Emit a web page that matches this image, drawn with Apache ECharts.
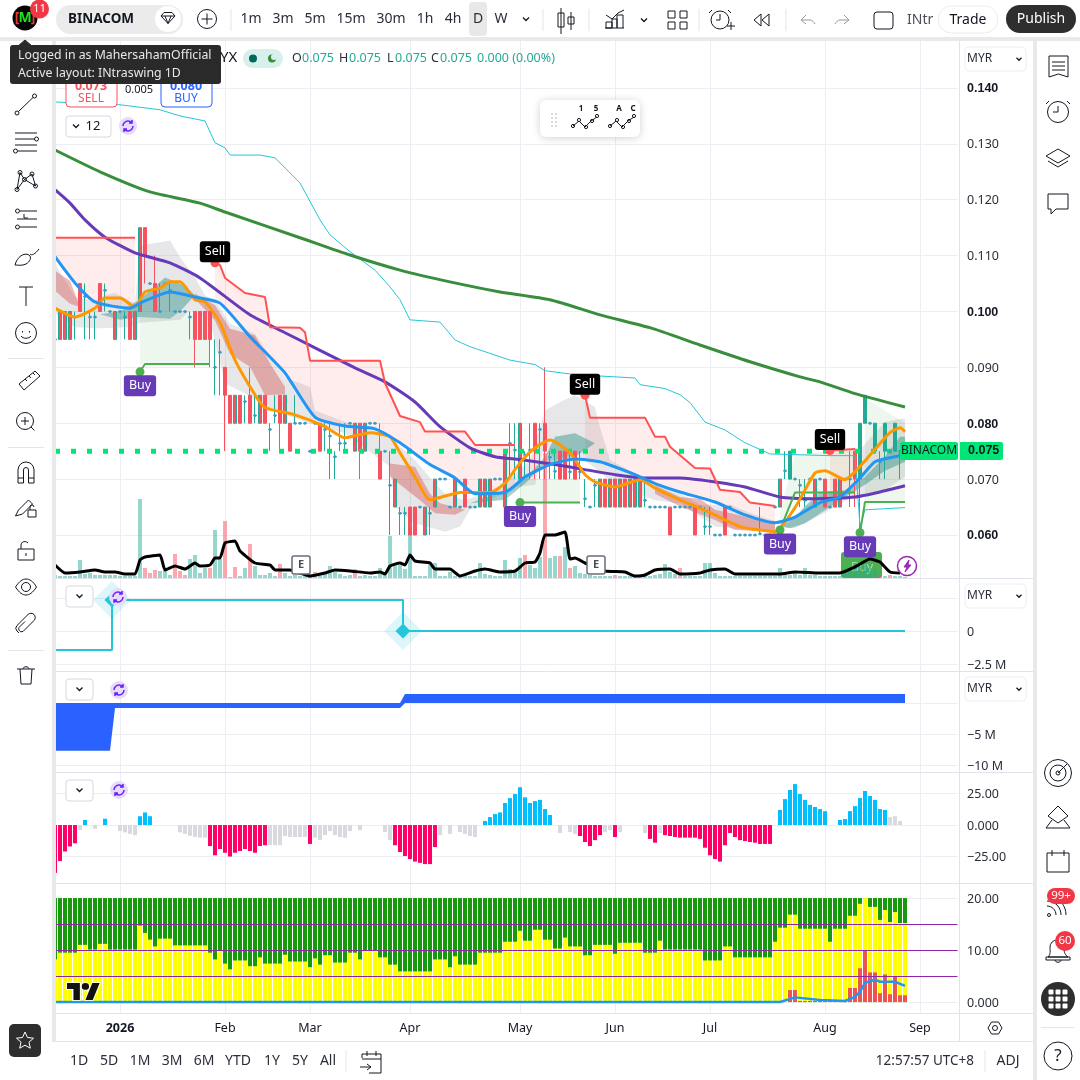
<!DOCTYPE html>
<html><head><meta charset="utf-8">
<style>html,body{margin:0;padding:0;background:#fff}#c{width:1080px;height:1080px}</style>
<script src="https://cdn.jsdelivr.net/npm/echarts@6/dist/echarts.min.js"></script>
</head><body><div id="c"></div>
<script>
// ---------- DATA ----------
const barCount = 181;
const monthLabels = {13:'2026',34:'Feb',51:'Mar',71:'Apr',93:'May',112:'Jun',131:'Jul',154:'Aug',173:'Sep'};
const priceTicks = [0.06,0.07,0.08,0.09,0.10,0.11,0.12,0.13,0.14];
const boldPrices = ['0.140','0.100','0.080','0.060'];
// [open, close, low, high]
const candles = [
[.095,.095,.095,.095],[.095,.1,.095,.1],[.095,.1,.095,.1],[.095,.1,.095,.1],[.099,.099,.095,.1],
[.105,.1,.1,.105],[.1027,.1027,.095,.105],[.099,.099,.095,.1],[.099,.099,.095,.1],[.105,.1,.1,.105],
[.1038,.1038,.1,.105],[.1,.1,.1,.1],[.095,.1,.095,.1],[.1,.1,.1,.1],[.099,.099,.095,.1],
[.1,.095,.095,.1],[.095,.1,.095,.1],[.1,.115,.1,.115],[.115,.11,.105,.115],[.105,.105,.105,.105],
[.105,.1,.1,.11],[.1,.1,.1,.105],[.105,.105,.105,.105],[.1038,.1038,.1,.105],[.1,.1,.1,.1],
[.1,.1,.1,.1],[.1,.1,.1,.1],[.099,.099,.095,.1],[.1,.095,.09,.1],[.1,.095,.095,.1],
[.1,.095,.095,.1],[.1,.095,.09,.1],[.09,.09,.085,.095],[.0927,.0927,.085,.095],[.09,.085,.075,.09],
[.085,.08,.08,.085],[.08,.085,.08,.085],[.085,.08,.08,.085],[.0839,.0839,.08,.085],[.085,.08,.08,.09],
[.0814,.0814,.08,.085],[.08,.085,.08,.085],[.085,.08,.08,.085],[.0789,.0789,.075,.08],[.0814,.0814,.08,.085],
[.085,.08,.075,.085],[.08,.085,.08,.085],[.08,.075,.075,.08],[.08,.08,.08,.085],[.08,.08,.08,.08],
[.08,.08,.08,.08],[.075,.075,.075,.075],[.08,.08,.08,.08],[.08,.075,.075,.08],[.0789,.0789,.075,.08],
[.0777,.0777,.07,.08],[.074,.074,.07,.075],[.0764,.0764,.075,.08],[.0764,.0764,.075,.08],[.08,.08,.08,.08],
[.075,.08,.075,.08],[.08,.075,.07,.08],[.075,.08,.075,.08],[.08,.08,.08,.08],[.08,.08,.08,.08],
[.075,.07,.07,.08],[.075,.075,.075,.075],[.0689,.0689,.06,.075],[.065,.07,.065,.07],[.0639,.0639,.06,.065],
[.0639,.0639,.06,.065],[.065,.06,.06,.065],[.065,.06,.06,.065],[.065,.065,.065,.065],[.06,.065,.06,.065],
[.0639,.0639,.06,.065],[.065,.07,.065,.07],[.07,.07,.07,.07],[.07,.07,.07,.07],[.065,.065,.065,.065],
[.065,.07,.065,.07],[.065,.065,.065,.065],[.07,.065,.065,.07],[.065,.065,.065,.065],[.065,.065,.065,.065],
[.065,.07,.065,.07],[.065,.07,.065,.07],[.065,.07,.065,.07],[.07,.07,.07,.07],[.07,.07,.07,.07],
[.065,.075,.065,.075],[.0764,.0764,.07,.08],[.0752,.0752,.07,.08],[.07,.08,.07,.08],[.0743,.0743,.07,.075],
[.0752,.0752,.07,.08],[.08,.075,.07,.08],[.0789,.0789,.07,.08],[.08,.075,.07,.09],[.0739,.0739,.07,.075],
[.0714,.0714,.07,.075],[.075,.07,.07,.075],[.075,.07,.07,.075],[.0713,.0713,.07,.075],[.075,.07,.07,.075],
[.0713,.0713,.07,.075],[.0665,.0665,.065,.07],[.065,.065,.065,.065],[.0689,.0689,.065,.07],[.065,.07,.065,.07],
[.07,.065,.065,.07],[.065,.07,.065,.07],[.07,.065,.065,.07],[.065,.07,.065,.07],[.07,.065,.065,.07],
[.065,.07,.065,.07],[.065,.07,.065,.07],[.065,.07,.065,.07],[.0662,.0662,.065,.07],[.065,.065,.065,.065],
[.065,.065,.065,.065],[.065,.065,.065,.065],[.065,.065,.065,.065],[.065,.06,.06,.065],[.065,.065,.065,.065],
[.065,.065,.065,.065],[.065,.065,.065,.065],[.065,.065,.065,.065],[.065,.06,.06,.065],[.065,.065,.065,.065],
[.0615,.0615,.06,.065],[.0615,.0615,.06,.065],[.06,.06,.06,.06],[.06,.06,.06,.06],[.065,.06,.06,.065],
[.065,.065,.065,.065],[.06,.06,.06,.06],[.06,.06,.06,.06],[.06,.06,.06,.06],[.06,.06,.06,.06],
[.06,.06,.06,.06],[.0602,.0602,.06,.065],[.06,.06,.06,.06],[.06,.06,.06,.06],[.065,.065,.065,.065],
[.065,.07,.065,.07],[.0715,.0715,.07,.075],[.07,.075,.07,.075],[.07,.07,.07,.07],[.0689,.0689,.065,.07],
[.0662,.0662,.065,.07],[.07,.07,.07,.07],[.065,.07,.065,.07],[.07,.07,.07,.07],[.07,.065,.065,.07],
[.065,.065,.065,.065],[.07,.065,.065,.07],[.065,.07,.065,.07],[.07,.07,.07,.07],[.07,.07,.065,.075],
[.075,.07,.065,.075],[.07,.08,.06,.08],[.08,.085,.08,.085],[.08,.08,.08,.08],[.075,.08,.075,.08],
[.0731,.0731,.07,.075],[.075,.08,.07,.08],[.075,.075,.075,.075],[.075,.08,.075,.08],[.075,.075,.07,.075],
[.075,.075,.075,.075]];
const solidUpBars = [147,161,162,164,166,168];
const lastPriceLine = [[0,.075],[180,.075]];

const volume = [3,2,2,2,2,18,4,5,3,3,3,3,3,2,2,2,2,79,10,5,8,7,8,3,24,7,3,19,23,5,10,10,48,19,57,1,11,2,10,34,
12,3,3,5,2,14,5,2,3,2,2,2,6,4,5,12,6,4,2,3,9,2,3,2,2,10,3,42,15,13,9,45,2,2,2,13,15,2,2,6,2,2,4,2,2,15,4,3,2,2,
18,9,8,20,23,13,10,21,125,20,22,22,31,10,12,5,4,3,2,2,2,2,3,2,2,2,2,2,2,2,3,4,14,6,4,10,2,2,2,2,15,15,5,2,2,
2,2,2,2,2,2,2,2,2,2,10,5,3,7,3,10,3,3,2,2,2,2,2,6,8,15,12,14,10,8,3,2,3,2,2,1];
const volumeRed = [18,19,20,24,25,26,31,34,36,39,45,52,60,94,98,101,103,112,125,165,167];
const volumeAvg = [[0,13],[2,5],[5,6],[8,8],[10,6],[12,6],[14,4],[16,4],[17,18],[18,21],[21,23],[22,8],[24,12],[26,9],[28,15],[29,12],[31,13],[32,20],[33,20],[34,35],[36,37],[37,27],[40,15],[43,13],[44,8],[47,8],[51,2],[54,5],[56,8],[59,7],[63,5],[65,6],[66,4],[67,12],[69,15],[70,13],[71,23],[72,17],[75,15],[76,9],[79,9],[81,2],[84,7],[86,9],[89,6],[92,7],[94,15],[96,16],[97,25],[98,43],[100,43],[102,46],[103,19],[104,20],[106,15],[110,7],[114,6],[116,2],[118,3],[120,8],[123,9],[125,4],[129,5],[131,8],[134,9],[136,4],[145,4],[148,6],[153,5],[157,5],[160,11],[163,19],[165,16],[167,6],[169,5]];

const ma200 = [[0,.1289],[9,.1250],[19,.1214],[29,.1194],[34,.1178],[49,.1132],[59,.1101],[69,.1074],[79,.1053],[89,.1035],[99,.1021],[109,.0994],[119,.0971],[129,.0940],[139,.0910],[149,.0883],[153,.0874],[160,.0853],[170,.0829]];
const maPurple = [[0,.1218],[3,.1194],[6,.1164],[10,.1133],[16,.1105],[23,.1087],[29,.1060],[39,.0994],[46,.0962],[52,.0935],[60,.0899],[66,.0874],[72,.0838],[77,.0794],[83,.0756],[88,.0740],[93,.0735],[100,.0726],[106,.0717],[112,.0708],[118,.0702],[125,.0702],[132,.0695],[138,.0686],[145,.0668],[152,.0665],[160,.0668],[165,.0677],[170,.0688]];
const maBlue = [[0,.1098],[4,.1051],[8,.1017],[15,.1006],[17,.1015],[23,.1035],[28,.1026],[33,.1015],[39,.0955],[46,.0890],[52,.0811],[58,.0795],[64,.0790],[69,.0765],[75,.0726],[80,.0702],[84,.0674],[90,.0676],[94,.0704],[99,.0726],[104,.0736],[109,.0731],[116,.0708],[120,.0692],[125,.0677],[132,.0659],[138,.0636],[144,.0622],[148,.0632],[153,.0658],[157,.0668],[161,.0702],[164,.0731],[168,.0740],[170,.0743]];
const maOrange = [[0,.1006],[4,.0990],[8,.1006],[10,.1024],[13,.1024],[16,.1008],[18,.1035],[21,.1042],[23,.1053],[25,.1053],[28,.1021],[30,.1017],[33,.0980],[36,.0913],[40,.0851],[42,.0828],[48,.0815],[54,.0794],[58,.0774],[63,.0783],[67,.0776],[69,.0747],[72,.0704],[75,.0663],[79,.0672],[81,.0676],[87,.0676],[90,.0693],[93,.0729],[96,.0756],[99,.0770],[103,.0747],[106,.0708],[108,.0695],[112,.0686],[117,.0699],[120,.0684],[125,.0663],[131,.0640],[137,.0615],[144,.0606],[148,.0649],[152,.0711],[154,.0715],[158,.0699],[160,.0713],[163,.0743],[167,.0783],[169,.0792],[170,.0785]];
const bandCyan = [[0,.1375],[13,.1370],[21,.1361],[25,.1350],[30,.1341],[32,.1302],[34,.1293],[35,.1280],[41,.1280],[44,.1275],[49,.1230],[53,.1164],[55,.1137],[59,.1107],[64,.1074],[67,.1044],[69,.1021],[71,.0985],[77,.0981],[80,.0949],[83,.0937],[91,.0913],[96,.0905],[98,.0894],[104,.0887],[116,.0881],[117,.0869],[122,.0862],[125,.0851],[127,.0837],[130,.0802],[134,.0788],[138,.0765],[143,.0745],[155,.0742],[160,.0742],[161,.0615],[162,.0645],[170,.0649]];

const stopRed1 = [[0,.1132],[16,.1132]];
const stopRed2 = [[32,.1087],[33,.1083],[34,.1060],[38,.1033],[42,.1026],[43,.0972],[49,.0971],[50,.0963],[51,.0912],[65,.0912],[66,.0872],[69,.0813],[73,.0802],[74,.0785],[82,.0785],[84,.0761],[92,.0761]];
const stopRed3 = [[106,.0850],[107,.0810],[118,.0810],[120,.0776],[122,.0776],[123,.0758],[128,.0720],[131,.0719],[133,.0681],[137,.0677],[139,.0658],[144,.0652]];
const stopRed4 = [[155,.0751],[160,.0754]];
const stopGreen1 = [[17,.0892],[18,.0906],[31,.0906]];
const stopGreen2 = [[93,.0658],[105,.0658]];
const stopGreen3 = [[145,.0609],[148,.0676],[160,.0676]];
const stopGreen4 = [[161,.0604],[162,.0659],[170,.0659]];

const sellSignals = [[32,.1087],[106,.0850],[155,.0751]];
const buySignals = [[17,.0892],[93,.0658],[145,.0609],[161,.0604]];

const pinkFills = [
 [[0,.1132],[16,.1132],[16,.1005],[15,.1006],[8,.1017],[4,.1051],[0,.1098]],
 [[32,.1087],[33,.1083],[34,.1060],[38,.1033],[42,.1026],[43,.0972],[49,.0971],[50,.0963],[51,.0912],[65,.0912],[66,.0872],[69,.0813],[73,.0802],[74,.0785],[82,.0785],[84,.0761],[92,.0761],[92,.0680],[90,.0676],[84,.0674],[80,.0702],[75,.0726],[69,.0765],[64,.0790],[58,.0795],[52,.0811],[46,.0890],[39,.0955],[33,.1015],[32,.1018]],
 [[106,.0850],[107,.0810],[118,.0810],[120,.0776],[122,.0776],[123,.0758],[128,.0720],[131,.0719],[133,.0681],[137,.0677],[139,.0658],[144,.0652],[144,.0622],[138,.0636],[132,.0659],[125,.0677],[120,.0692],[116,.0708],[109,.0731],[106,.0735]],
 [[155,.0751],[160,.0754],[160,.0690],[157,.0668],[155,.0664]]];
const greenFills = [
 [[17,.0906],[31,.0906],[31,.0985],[27,.1000],[25,.1000],[23,.0987],[17,.0990]],
 [[93,.0658],[105,.0658],[105,.0700],[93,.0700]],
 [[145,.0609],[148,.0676],[160,.0676],[160,.0754],[148,.0745],[145,.0640]],
 [[162,.0659],[170,.0659],[170,.0800],[162,.0845]]];
const greyFills = [
 [[0,.1085],[4,.1026],[8,.1020],[10,.1029],[12,.1033],[16,.1014],[17,.1118],[23,.1127],[25,.1097],[28,.1061],[30,.1029],[32,.1020],[35,.0978],[40,.0960],[46,.0882],[51,.0865],[52,.0823],[59,.0799],[66,.0782],[69,.0758],[72,.0734],[76,.0692],[78,.0674],[78,.0606],[72,.0621],[68,.0651],[67,.0722],[58,.0782],[51,.0799],[42,.0829],[38,.0853],[34,.0871],[31,.0984],[27,.1002],[25,.0985],[17,.0980],[15,.0972],[9,.0970],[4,.0972],[0,.0997]],
 [[78,.0674],[82,.0662],[85,.0671],[90,.0692],[95,.0734],[98,.0823],[101,.0838],[104,.0850],[108,.0829],[109,.0793],[111,.0734],[116,.0710],[120,.0692],[125,.0674],[129,.0654],[135,.0654],[140,.0636],[144,.0625],[144,.0606],[138,.0609],[132,.0615],[125,.0657],[120,.0662],[112,.0690],[108,.0720],[104,.0745],[100,.0734],[98,.0764],[96,.0690],[92,.0686],[87,.0663],[83,.0645],[81,.0615],[78,.0606]],
 [[145,.0615],[153,.0670],[160,.0680],[161,.0752],[163,.0773],[166,.0802],[169,.0808],[170,.0808],[170,.0704],[166,.0680],[160,.0671],[154,.0640],[148,.0612]]];
const redClouds = [
 [[0,.1073],[3,.1055],[5,.1008],[3,.1014],[0,.1037]],
 [[28,.1032],[32,.1011],[35,.0969],[40,.0957],[43,.0907],[46,.0865],[46,.0852],[42,.0850],[39,.0901],[35,.0924],[32,.0984],[28,.1023]],
 [[67,.0728],[72,.0722],[75,.0674],[77,.0657],[82,.0645],[80,.0636],[76,.0639],[73,.0662],[70,.0683],[67,.0704]],
 [[120,.0689],[125,.0668],[129,.0665],[132,.0645],[138,.0633],[144,.0621],[144,.0606],[136,.0609],[132,.0627],[125,.0651],[120,.0674]]];
const tealClouds = [
 [[9,.0995],[13,.1000],[17,.1022],[22,.1061],[26,.1046],[28,.1029],[25,.1000],[23,.0987],[17,.0990],[13,.0985]],
 [[83,.0657],[90,.0680],[94,.0700],[98,.0740],[100,.0776],[104,.0782],[108,.0764],[104,.0740],[98,.0728],[94,.0692],[90,.0663]],
 [[145,.0615],[148,.0630],[150,.0652],[153,.0677],[158,.0680],[162,.0704],[166,.0740],[169,.0776],[170,.0776],[170,.0731],[166,.0715],[162,.0690],[158,.0668],[155,.0650],[150,.0621],[147,.0612]]];

const cashLine = [[0,-1.44],[11.4,-1.44],[11.4,2.35],[69.6,2.35],[69.6,0],[170,0]];
const cashMarks = [[11.4,2.35],[69.6,0]];
const flowNeg = [[0,-7.7],[11,-7.7],[12,-0.8],[69,-0.8],[70,0],[170,0]];
const flowPos = [[69,0],[70,1.45],[170,1.45]];

const histogram = [-38,-28.6,-21,-17,-14.5,-4,4,0,-3,0,5,0,0,-4.8,-5.8,-7,-8,7,10,7,0,0,0,0,0,-5.8,-7,-8.5,-9.5,-10,-10,-16.7,-24,-19,-22,-25,-22,-20.6,-19,-20.6,-22,-16.7,-16,-16,-16,-16,-8.7,-9.5,-9.5,-9.5,-9.5,-15,-10,-12,-8,-4.8,-8,-9.5,-10,-4.8,0,-4,0,0,0,0,-5.6,-12,-16,-21.4,-24.6,-27,-29,-30,-31,-31,-17.5,-8,0,-7,0,-5.6,-7,-8.7,-9.5,0,3.2,6.3,8.7,10,17.5,21.4,24.6,30,22,17.5,19,20,12.7,8,0,-6.3,0,-5.6,-7,-8.7,-13.5,-16.7,-12,-8,-5.6,-4,-9.5,-5.6,0,0,0,0,-6.3,-11,-14,-6.3,-8,-8.7,-9.5,-10,-10,-10,-10,-11,-18,-24,-27,-29,-16,-6.3,-9.5,-12,-12.7,-13.5,-14,-15,-15,-15,0,12,20.6,27.8,32.5,24.6,20,16,14.3,12.7,11,0,0,4,4.8,11,15,21.4,27,23,20,12.7,12,6.3,7,3.2,0];
const histogramGrey = [5,8,13,14,15,16,25,26,27,28,29,30,43,44,45,46,47,48,49,50,52,53,54,55,56,57,58,59,61,66,67,77,79,81,82,83,84,101,103,104,110,111,113,118,121,167,168,169];

const ratingYellow = [8.2,9.5,9.5,9.5,9.5,11,11,10.1,10.1,11.2,11.2,10.1,10.1,10.1,10.1,10.1,10.1,14.7,13.3,12,10.7,12.2,12.2,12.2,10.9,10.9,10.9,10.9,10.9,10.9,10.9,9.5,8.2,9.9,7.4,6.3,8,8,8,6.9,6.9,8.6,7.4,7.4,7.4,7.4,9.1,7.8,7.8,7.8,7.8,6.7,8.4,7.2,9,9,7.6,7.6,7.6,9.5,9.5,8.2,9.9,9.9,9.9,8.6,8.6,7.2,7.2,5.9,5.9,5.9,5.9,5.9,5.9,5.9,8.2,8.2,8.2,6.7,8.8,7.2,7.2,7.2,7.2,9.5,9.5,9.5,9.5,9.5,11.6,11.6,11.6,13.7,11.8,11.8,13.9,13.9,12,12,10.3,10.3,12.4,10.7,10.7,10.7,9,9,11,11,11,11,9.3,11.4,11.4,11.4,11.4,11.4,9.5,9.5,9.5,11.8,10.1,10.1,10.1,10.1,10.1,10.1,10.1,10.1,8,8,8,8,10.7,10.7,8.6,8.6,8.6,8.6,8.6,8.6,8.6,8.6,11.6,14.3,14.3,16.8,16.8,14.1,14.1,14.1,14.1,14.1,14.1,11.6,14.1,14.1,14.1,16.6,16.6,18.9,20,18.3,18.3,15.8,17.7,15.4,17.3,15.2,15.2];
const ratingRed = [[147,2.3],[148,2.3],[149,.2],[150,.2],[151,.2],[152,.2],[153,.2],[154,.2],[155,.2],[156,.2],[157,.2],[158,.2],[159,2.7],[160,2.7],[161,6.5],[162,10],[163,5.7],[164,5.7],[165,1.7],[166,5.3],[167,1.5],[168,5],[169,1.3],[170,1.3]];
const ratingTop = new Array(171).fill(20);
const ratingBlue = [[0,0],[145,0],[148,.9],[153,.4],[158,.2],[160,1],[161,2],[162,3.7],[164,4.3],[165,3.9],[168,3.9],[170,3.1]];
const ratingLevels = [15,10,5];

// ---------- STYLE ----------
const FONT = '"Noto Sans", sans-serif';
const INK = '#131722', GRID = '#eceef3', LINE = '#e0e3eb', TEAL = '#22ab94', RED = '#f7525f';
const GREEN_NEW = '#00e676';
const cats = Array.from({length: barCount}, (_, i) => String(i));

const isMonth = i => monthLabels[i] !== undefined;
function xAxis(g, last) {
  return {type:'category', gridIndex:g, data:cats, boundaryGap:true,
    axisLine:{show:false}, axisTick:{show:false},
    splitLine:{show:true, alignWithLabel:true, interval:isMonth, lineStyle:{color:GRID,width:1}},
    axisLabel: last ? {show:true, interval:isMonth, margin:8, color:INK, fontFamily:FONT, fontSize:12.5,
      formatter:(v)=>{const s=monthLabels[+v]; return s==='2026'?'{b|2026}':s;},
      rich:{b:{fontWeight:'bold',fontFamily:FONT,fontSize:12.5,color:INK}}} : {show:false}};
}
// pane 2 steps fall between two bars, so its x axis is continuous over the same bar numbers
const xAxisContinuous = g => ({type:'value', gridIndex:g, min:-0.5, max:barCount-0.5,
  axisLine:{show:false}, axisLabel:{show:false},
  axisTick:{show:false, customValues:Object.keys(monthLabels).map(Number)},
  splitLine:{show:true, lineStyle:{color:GRID,width:1}}});
function yAxis(g, min, max, splits, labels, fmt) {
  return {type:'value', gridIndex:g, position:'right', offset:1.5, min, max, scale:true,
    axisLine:{show:false},
    axisTick:{show:false, customValues:splits},
    splitLine:{show:true, lineStyle:{color:GRID,width:1}},
    axisLabel:{customValues:labels, margin:8, color:'#2a2e39', fontFamily:FONT, fontSize:12.5, formatter:fmt,
      padding:[2,0,0,0], showMinLabel:true, showMaxLabel:true,
      rich:{b:{fontWeight:'bold',fontFamily:'"Liberation Sans", sans-serif',fontSize:12.5,color:INK}}}};
}
const lineS = (name, data, color, width, xa, ya, extra) => Object.assign({type:'line', name, data, xAxisIndex:xa, yAxisIndex:ya,
  showSymbol:false, symbol:'none', animation:false, silent:true, z:5, lineStyle:{color, width}}, extra||{});
const polyS = (name, verts, fill, z) => ({type:'custom', name, xAxisIndex:0, yAxisIndex:0, data:verts, encode:{x:0,y:1}, silent:true, animation:false, z:z||1, clip:true,
  renderItem:(params, api)=> params.dataIndex!==0 ? null : ({type:'polygon', shape:{points:verts.map(v=>api.coord(v))}, style:{fill}})});

const series = [];
pinkFills.forEach((v,i)=>series.push(polyS('pink'+i,v,'rgba(255,82,82,0.11)')));
greenFills.forEach((v,i)=>series.push(polyS('greenFill'+i,v,'rgba(76,175,80,0.10)')));
greyFills.forEach((v,i)=>series.push(polyS('grey'+i,v,'rgba(120,123,134,0.18)')));
redClouds.forEach((v,i)=>series.push(polyS('redCloud'+i,v,'rgba(205,40,40,0.33)')));
tealClouds.forEach((v,i)=>series.push(polyS('tealCloud'+i,v,'rgba(0,121,107,0.36)')));
series.push({type:'bar', name:'Volume', xAxisIndex:0, yAxisIndex:5, barWidth:4, z:2, silent:true, animation:false,
  data:volume.map((v,i)=>({value:v,itemStyle:{color:volumeRed.includes(i)?'rgba(247,82,95,0.5)':'rgba(34,171,148,0.48)'}}))});
series.push({type:'candlestick', name:'BINACOM', xAxisIndex:0, yAxisIndex:0, barWidth:3, z:3, silent:true, animation:false,
  itemStyle:{color:RED,color0:RED,borderColor:TEAL,borderColor0:RED,borderColorDoji:TEAL,borderWidth:1},
  data:candles.map((c,i)=>solidUpBars.includes(i)?{value:c,itemStyle:{color:TEAL,borderColor:TEAL}}:c)});
series.push({type:'scatter', name:'close', xAxisIndex:0, yAxisIndex:0, symbolSize:3, z:4, silent:true, animation:false,
  itemStyle:{color:'#3d9cc4',opacity:1}, data:candles.map((c,i)=>[i,c[0],c[1]]).filter(d=>d[1]===d[2]).map(d=>[d[0],d[1]])});
series.push(lineS('lastPrice',lastPriceLine,GREEN_NEW,5,0,0,{z:4,lineStyle:{color:GREEN_NEW,width:5,type:[5,11]}}));
series.push(lineS('bandCyan',bandCyan,'#26c6da',1,0,0));
series.push(lineS('ma200',ma200,'#388e3c',3,0,0,{smooth:0.2}));
series.push(lineS('maPurple',maPurple,'#673ab7',3,0,0,{smooth:0.2}));
[stopRed1,stopRed2,stopRed3,stopRed4].forEach((d,i)=>series.push(lineS('stopRed'+i,d,'#ff5252',2,0,0)));
[stopGreen1,stopGreen2,stopGreen3,stopGreen4].forEach((d,i)=>series.push(lineS('stopGreen'+i,d,'#4caf50',2,0,0)));
series.push(lineS('maOrange',maOrange,'#ff9800',3,0,0,{smooth:0.2}));
series.push(lineS('maBlue',maBlue,'#2196f3',3,0,0,{smooth:0.2}));
series.push(lineS('volumeAvg',volumeAvg,'#000000',3,0,5,{z:6,smooth:0.15}));
series.push({type:'scatter',name:'Sell',xAxisIndex:0,yAxisIndex:0,data:sellSignals,symbolSize:9,z:7,silent:true,animation:false,itemStyle:{color:'#ff5252',opacity:1},
  label:{show:true,position:'top',distance:-4,formatter:'Sell',color:'#fff',backgroundColor:'#000',borderRadius:3,padding:[4,5],fontFamily:FONT,fontSize:12.5}});
series.push({type:'scatter',name:'Buy',xAxisIndex:0,yAxisIndex:0,data:buySignals,symbolSize:9,z:7,silent:true,animation:false,itemStyle:{color:'#4caf50',opacity:1},
  label:{show:true,position:'bottom',distance:-1,formatter:'Buy',color:'#fff',backgroundColor:'#673ab7',borderRadius:3,padding:[4,5],fontFamily:FONT,fontSize:12.5}});
// pane 2
series.push(lineS('cash',cashLine,'#26c6da',2,1,1));
series.push({type:'scatter',name:'cashHalo',xAxisIndex:1,yAxisIndex:1,data:cashMarks,symbol:'diamond',symbolSize:38,silent:true,animation:false,z:2,itemStyle:{color:'rgba(38,198,218,0.16)',opacity:1}});
series.push({type:'scatter',name:'cashMark',xAxisIndex:1,yAxisIndex:1,data:cashMarks,symbol:'diamond',symbolSize:15,silent:true,animation:false,z:6,itemStyle:{color:'#26c6da',opacity:1}});
// pane 3
series.push(lineS('flowNeg',flowNeg,'#2962ff',0,2,2,{areaStyle:{color:'#2962ff',opacity:1}}));
series.push(lineS('flowPos',flowPos,'#2962ff',0,2,2,{areaStyle:{color:'#2962ff',opacity:1}}));
// pane 4
series.push({type:'bar',name:'hist',xAxisIndex:3,yAxisIndex:3,barWidth:4,silent:true,animation:false,
  data:histogram.map((v,i)=>({value:v,itemStyle:{color:histogramGrey.includes(i)?'#d9dae0':(v<0?'#ff0066':'#00bfff')}}))});
// pane 5
series.push({type:'bar',name:'ratingTop',xAxisIndex:4,yAxisIndex:4,barWidth:4,barGap:'-100%',silent:true,animation:false,data:ratingTop,itemStyle:{color:'#16990a'},
  markLine:{silent:true,symbol:'none',animation:false,z:8,label:{show:false},lineStyle:{color:'#8e24aa',width:1.2,type:'solid',opacity:1},data:ratingLevels.map(v=>({yAxis:v}))}});
series.push({type:'bar',name:'ratingYellow',xAxisIndex:4,yAxisIndex:4,barWidth:4,barGap:'-100%',silent:true,animation:false,data:ratingYellow,itemStyle:{color:'#ffff00'}});
series.push({type:'bar',name:'ratingRed',xAxisIndex:4,yAxisIndex:4,barWidth:4,barGap:'-100%',silent:true,animation:false,data:ratingRed,itemStyle:{color:'#ef5350'}});
series.push(lineS('ratingBlue',ratingBlue,'#2196f3',2.5,4,4,{z:9}));

// ---------- CHROME ----------
const g = [];
const CZ = 100;
let shapeNo = 0;
const shapeFor = d => { const n = 'ic'+(shapeNo++); echarts.graphic.registerShape(n, echarts.graphic.extendPath(d, {})); return n; };
const rect=(x,y,w,h,fill,o)=>{o=o||{};g.push({type:'rect',silent:true,z:o.z||CZ,shape:{x,y,width:w,height:h,r:o.r||0},style:{fill,stroke:o.stroke,lineWidth:o.lw||1,shadowBlur:o.blur||0,shadowColor:o.shc,shadowOffsetY:o.sy||0}})};
const hline=(x1,y1,x2,y2,c,w,z)=>g.push({type:'line',silent:true,z:z||CZ,shape:{x1,y1,x2,y2},style:{stroke:c,lineWidth:w||1}});
const txt=(x,y,s,o)=>{o=o||{};g.push({type:'text',silent:true,z:o.z||CZ+1,x,y,style:{text:s,fill:o.c||INK,font:(o.w||'normal')+' '+(o.s||14)+'px '+(o.f||FONT),align:o.a||'center',verticalAlign:'middle'}})};
const circ=(x,y,r,fill,o)=>{o=o||{};g.push({type:'circle',silent:true,z:o.z||CZ,shape:{cx:x,cy:y,r},style:{fill,stroke:o.stroke,lineWidth:o.lw||1}})};
const ic=(d,o)=>{o=o||{};g.push({type:shapeFor(d),silent:true,z:o.z||CZ+1,shape:{},style:{fill:o.fill||'none',stroke:o.stroke===undefined?INK:o.stroke,lineWidth:o.lw||1}})};
const cp=(x,y,r)=>`M${x-r} ${y}a${r} ${r} 0 1 0 ${2*r} 0a${r} ${r} 0 1 0 ${-2*r} 0`;
const chev=(x,y,c,r)=>{r=r||4;ic(`M${x-r} ${y-r/2}L${x} ${y+r/2}L${x+r} ${y-r/2}`,{stroke:c||INK,lw:1.3})};
const sync=(x,y)=>{circ(x,y,9,'#e6dcf8',{z:30});ic(`M${x-5} ${y}a5 5 0 0 1 8.7 -3.3M${x+5} ${y}a5 5 0 0 1 -8.7 3.3M${x+4} ${y-6}v3h-3M${x-4} ${y+6}v-3h3`,{stroke:'#6a1fff',lw:1.5,z:31})};
const chevBox=(x,y,w)=>{rect(x,y,w,21,'#fff',{stroke:'#d6d8de',r:3,z:30});};

// frame
rect(0,0,52,1080,'#fff'); rect(52,41,4,1001,'#e9e9e9');
rect(0,0,1080,37,'#fff'); rect(0,37,1080,4,'#e9e9e9');
rect(1033,37,4,1043,'#e9e9e9'); rect(1037,41,43,1039,'#fff');
rect(52,1042,981,38,'#fff');
hline(56,1041.5,1033,1041.5,LINE); hline(56,1013.5,1033,1013.5,LINE);
[578.5,671.5,772.5,883.5].forEach(y=>hline(56,y,1033,y,LINE));
hline(959.5,41,959.5,1041,LINE);

// top bar
circ(25,18,12.5,'#050505');
txt(25,18,'M',{c:'#19e619',w:'bold',s:14});
txt(17,18,'[',{c:'#e53935',w:'bold',s:14}); txt(33,18,']',{c:'#e53935',w:'bold',s:14});
circ(39.5,9,9.5,'#f23645',{z:CZ+1}); txt(39.5,9,'11',{c:'#fff',s:11.5,z:CZ+2});
rect(56,5,127,29,'#ebebeb',{r:14.5}); txt(68,19,'BINACOM',{a:'left',w:'bold',s:13.5});
circ(168,19,13,'#fff',{z:CZ+1}); ic('M161 16l3-3.5h8l3 3.5l-7 7.5zM161 16h14M165 16l3 7.5l3-7.5',{z:CZ+2});
ic(cp(207,19,9.5)+'M207 13.5v11M201.5 19h11');
hline(231,9,231,31,'#e6e6e6',1,CZ);
[['1m',251],['3m',283],['5m',315],['15m',351],['30m',391],['1h',425],['4h',453],['D',478],['W',501]].forEach(a=>{
  if(a[0]==='D') rect(469,2,18,34,'#e8e8e8',{r:4,z:CZ});
  txt(a[1],19,a[0],{s:14,c:'#2a2e39'});});
chev(526,19,INK,3); hline(543,9,543,31,'#e6e6e6');
ic('M561 8v26M558 13h6v14h-6zM571 12v18M568 17h6v7h-6z');
hline(589,9,589,31,'#e6e6e6');
ic('M606 28h6v-6h-6zM612 28v-9h5v9M617 28v-13h6v13M605 28h19M606 15l6 4l6-6l6-3');
chev(644,20,INK,3);
ic('M668 11h7v7h-7zM680 11h7v7h-7zM668 22h7v7h-7zM680 22h7v7h-7z');
hline(699,9,699,31,'#e6e6e6');
ic(cp(720,20,9)+'M720 14v6h-4M712 10l-3 3M728 10l3 3M727 26h8M731 22v8');
ic('M761 14l-7 6l7 6zM769 14l-7 6l7 6z');
hline(786,9,786,31,'#e6e6e6');
ic('M806 15l-5 5l5 4M802 20h8c2 0 4 2 5 4',{stroke:'#9598a1'});
ic('M844 15l5 5l-5 4M848 20h-8c-2 0-4 2-5 4',{stroke:'#9598a1'});
rect(874,12,19,17,'#fff',{stroke:INK,r:3,z:CZ+1});
txt(907,20,'INtr',{a:'left',s:14,c:'#4a4e59'});
rect(938,6,60,27,'#fff',{stroke:'#ececec',r:13.5,z:CZ+1}); txt(968,20,'Trade',{s:14,z:CZ+2});
rect(1006,5,70,28,'#2e2e2e',{r:14,z:CZ+1}); txt(1041,19.5,'Publish',{c:'#fff',s:14,z:CZ+2});

// legend
txt(220,58,'YX',{a:'left',s:15,z:40});
rect(243,49,40,19,'#d8f0ec',{r:9.5,z:40}); circ(253,58.5,4,'#00695c',{z:41}); circ(272,58.5,4,'#388e3c',{z:41}); circ(274,57,3,'#d8f0ec',{z:42});
[['O',292,'0.075',302],['H',339,'0.075',349],['L',387,'0.075',395],['C',431,'0.075',440]].forEach(a=>{
  txt(a[1],58.5,a[0],{a:'left',s:12.5,c:'#2a2e39',z:40}); txt(a[3],58.5,a[2],{a:'left',s:12.5,c:TEAL,z:40});});
txt(477,58.5,'0.000 (0.00%)',{a:'left',s:12.5,c:TEAL,z:40});
// sell / buy boxes
rect(66,72,51,35,'#fff',{stroke:'#f7525f',r:4,z:40}); txt(91,86,'0.073',{c:'#f7525f',w:'bold',s:12.5,z:41}); txt(91,98.5,'SELL',{c:'#f7525f',s:12,z:41});
rect(117,72,44,30,'#fff',{z:39}); txt(139,90,'0.005',{s:11,z:41});
rect(161,72,51,35,'#fff',{stroke:'#2962ff',r:4,z:40}); txt(186,86,'0.080',{c:'#2962ff',w:'bold',s:12.5,z:41}); txt(186,98.5,'BUY',{c:'#2962ff',s:12,z:41});
chevBox(66,116,45); chev(76,126,INK,3); txt(93,126,'12',{s:13,z:CZ+1}); sync(128,126);
// drawing-tool pill
rect(540,100,100,37,'#fff',{r:6,blur:8,shc:'rgba(0,0,0,0.18)',sy:1,z:40});
[552,556].forEach(x=>[114,118,122,126].forEach(y=>circ(x,y,0.9,'#c8c8c8',{z:41})));
ic('M573 126l6-5l6 6l6-6l6-4'+cp(573,126,1.6)+cp(579,120,1.6)+cp(586,127,1.6)+cp(592,121,1.6)+cp(597,116,1.6),{z:41});
ic('M610 126l6-5l6 6l6-6l6-4'+cp(610,126,1.6)+cp(617,120,1.6)+cp(623,127,1.6)+cp(629,121,1.6)+cp(634,116,1.6),{z:41});
txt(581,109,'1',{w:'bold',s:8,z:41}); txt(596,109,'5',{w:'bold',s:8,z:41}); txt(619,109,'A',{w:'bold',s:8,z:41}); txt(633,109,'C',{w:'bold',s:8,z:41});
// tooltip (above everything)
ic('M18 46L25 40L32 46z',{fill:'#2a2a2a',stroke:'#2a2a2a',z:CZ+5});
rect(10,45,211,39,'#2a2a2a',{r:3,z:CZ+5});
txt(18,55,'Logged in as MahersahamOfficial',{a:'left',s:12.3,c:'#e8e8e8',z:CZ+6});
txt(18,73,'Active layout: INtraswing 1D',{a:'left',s:12.3,c:'#e8e8e8',z:CZ+6});

// last price tag
rect(900,442,58,18,GREEN_NEW,{r:2,z:40}); txt(901,451,'BINACOM',{a:'left',s:12,z:41});
rect(959,442,44,18,GREEN_NEW,{r:2,z:40}); txt(968,451,'0.075',{a:'left',s:12.5,w:'bold',f:'"Liberation Sans", sans-serif',z:41});
// chart flags
[[301,565],[596,565]].forEach(p=>{rect(p[0]-9,p[1]-9,18,18,'#fff',{stroke:'#6a6d78',r:2,lw:1.5,z:30});txt(p[0],p[1],'E',{s:11,w:'bold',c:'#4a4e59',z:31});});
rect(841,552,41,26,'#4caf50',{r:3,z:1}); txt(862,567,'Buy',{c:'rgba(255,255,255,0.55)',s:12.5,z:1});
circ(907,566,9.5,'#fff',{stroke:'#9c27b0',lw:1.5,z:30}); ic('M909 560l-5 7h3l-2 5l6-7h-3z',{fill:'#9c27b0',stroke:'#9c27b0',z:31});
// pane buttons
chevBox(66,586,27); chev(79.5,596,INK,3); sync(118,597);
chevBox(66,679,27); chev(79.5,689,INK,3); sync(119,690);
chevBox(66,780,27); chev(79.5,790,INK,3); sync(119,790);
// MYR boxes
[[47,59],[584,596],[677,689]].forEach(a=>{rect(965,a[0],61,24,'#fff',{stroke:'#eceef3',r:4,z:30});txt(967,a[1],'MYR',{a:'left',s:12,c:'#2a2e39',z:31});chev(1019,a[1],INK,2.5);});
// TradingView mark
g.push({type:shapeFor('M14 24H7V11H0V4h14zM28 24h-8l7.5-20h8zM24 8a4 4 0 1 1-8 0a4 4 0 1 1 8 0'),silent:true,z:40,x:67,y:979.6,scaleX:0.92,scaleY:0.85,shape:{},style:{fill:'#111',stroke:'#fff',lineWidth:2,strokeFirst:true}});

// left toolbar
ic(cp(17,113,2)+cp(34.5,96,2)+'M18.5 111.5L33 97.5');
ic('M15 133h22M15 139h20M15 145h22M18 151h19'+cp(36.5,139,2)+cp(15.5,151,2));
ic('M20 172.5L17 189.5L24.5 179.5L20 172.5M24.5 179.5L32 174L35.5 186L24.5 179.5'+cp(20,172.5,2)+cp(32,174,2)+cp(35.5,186,2)+cp(24.5,179.5,2)+cp(17,189.5,2));
ic('M20 211h17M20 227h17M17 219h20M24 214v4h4'+cp(17.5,211,2)+cp(17.5,227,2));
ic('M15 265c2-8 9-13 14-10c3 2 1 7-3 9c-4 2-8 1-11 1zM30 254c2 2 5 0 9-5');
ic('M19 287h14M26 287v19');
ic(cp(26,333,10.5)+'M22.5 331v1.5M29.5 331v1.5M21 336c2 3 8 3 10 0');
hline(8,358.5,44,358.5,'#e6e6e6');
ic('M19 384l16-13l5 5l-16 14zM25 379l2 2M29 376l2 2M33 373l2 2');
ic(cp(25,421,8.5)+'M21 421h8M25 417v8M31 427l3.5 3.5');
hline(8,447.5,44,447.5,'#e6e6e6');
ic('M18 483v-13a8 8 0 0 1 16 0v13h-5.5v-13a2.5 2.5 0 0 0 -5 0v13zM18 478h5.5M28.5 478h5.5');
ic('M15.5 516l3-6l10-10l4 4l-10 10zM28 510h8v7h-8zM30 510v-3a2 2 0 0 1 4 0');
ic('M18 549h16v11h-16zM26 553v3M21 549v-4a4 4 0 0 1 7 -2');
ic('M15.5 587c4-6 7-8 10.5-8s7 2 10.5 8c-4 6-7 8-10.5 8s-6.5-2-10.5-8'+cp(26,587,4.5));
ic('M19 633l-2-2a4 4 0 0 1 0-5.5l11-11a4 4 0 0 1 6 6l-11 11a3 3 0 0 1-4-4l6-6');
hline(8,650.5,44,650.5,'#e6e6e6');
ic('M17 669h18M20 669l1 15h10l1-15M23 669c0-3 6-3 6 0');
rect(9,1024,32,33,'#2e2e2e',{r:5}); ic('M25 1032l2.5 5.5l6 .7l-4.5 4l1.3 6l-5.3-3l-5.3 3l1.3-6l-4.5-4l6-.7z',{stroke:'#fff'});

// right toolbar
ic('M1049 56h19v21l-9.5-3l-9.5 3zM1052 62h13M1052 66h13M1052 70h13');
ic(cp(1058,112,10.5)+'M1058 106v6h-5M1049 101l-3 3M1067 101l3 3');
ic('M1058 149l12 7l-12 7l-12-7zM1048 161l10 6l10-6');
ic('M1048 194h20v15h-12l-5 5v-5h-3z');
ic(cp(1058,773,13.5)+cp(1058,773,8)+cp(1058,773,2)+'M1058 773l9-9');
ic('M1058 806l10 10l-10 7l-10-7zM1046 828l6-8M1070 828l-6-8M1046 828h24');
ic('M1047 853h22v19h-22zM1052 850v6M1064 850v6');
ic(cp(1049,915,1.5)+'M1047 906c5 0 9 4 9 9M1047 901c8 0 14 6 14 14M1051 897c8 1 15 8 15 18');
rect(1047,888,28,16,'#f23645',{r:8,z:CZ+1}); txt(1061,896,'99+',{c:'#fff',s:11.5,z:CZ+2});
ic('M1048 957c3-3 2-6 2-10a7 7 0 0 1 14 0c0 4 0 7 4 10zM1046 957h24v3h-24zM1055 960c0 3 6 3 6 0');
circ(1065,941,10,'#f23645',{z:CZ+1}); txt(1065,941,'60',{c:'#fff',s:11.5,z:CZ+2});
circ(1058,999,17,'#2e2e2e');
[-7,0,7].forEach(dx=>[-7,0,7].forEach(dy=>rect(1058+dx-2.5,999+dy-2.5,5,5,'#fff',{r:1,z:CZ+1})));
hline(1041,1027.5,1074,1027.5,'#e6e6e6');
ic(cp(1058,1056,14));
txt(1058,1056,'?',{s:17,c:'#131722'});

// bottom bar
[['1D',79],['5D',109],['1M',140],['3M',172],['6M',204],['YTD',238],['1Y',272],['5Y',300],['All',328]].forEach(a=>txt(a[1],1061,a[0],{s:14,c:'#2a2e39'}));
hline(346,1050,346,1072,'#e6e6e6');
ic('M362 1054h19v19h-12M362 1054v4M362 1059h19M367 1051v5M376 1051v5M360 1067h11M367 1064l4 3l-4 3');
txt(974,1061,'12:57:57 UTC+8',{a:'right',s:13.5,c:'#2a2e39'});
hline(985,1050,985,1072,'#e6e6e6');
txt(1008,1061,'ADJ',{s:14,c:'#2a2e39'});
ic('M988 1028l3.5-6h7l3.5 6l-3.5 6h-7z'+cp(995,1028,2.5));

// ---------- OPTION ----------
const priceFmt = v => { const s = (+v).toFixed(3); return boldPrices.includes(s) ? `{b|${s}}` : s; };
const grid = (top,h)=>({left:52.5, width:905, top, height:h, containLabel:false});
const option = {
  backgroundColor:'#ffffff', animation:false, textStyle:{fontFamily:FONT},
  grid:[grid(41,537),grid(579,92),grid(672,100),grid(773,110),grid(884,129.5)],
  xAxis:[xAxis(0),xAxisContinuous(1),xAxis(2),xAxis(3),xAxis(4,true)],
  yAxis:[
    yAxis(0,0.0523,0.14841,priceTicks,priceTicks,priceFmt),
    yAxis(1,-3.03,3.94,[2.5,0,-2.5],[0,-2.5],v=>+v===0?'0':'\u22122.5 M'),
    yAxis(2,-11.13,5,[0,-5,-10],[-5,-10],v=>'\u2212'+Math.abs(v)+' M'),
    yAxis(3,-46,41.3,[25,0,-25],[25,0,-25],v=>+v===0?'0.000':(v<0?'\u221225.00':'25.00')),
    yAxis(4,-2.2,22.7,[20,10,0],[20,10,0],v=>+v===0?'0.000':(+v).toFixed(2)),
    {type:'value',gridIndex:0,min:0,max:537,show:false,splitLine:{show:false}}
  ],
  series, graphic:{elements:g}
};
const chart = echarts.init(document.getElementById('c'),null,{renderer:'canvas',width:1080,height:1080});
chart.setOption(option);
</script></body></html>
